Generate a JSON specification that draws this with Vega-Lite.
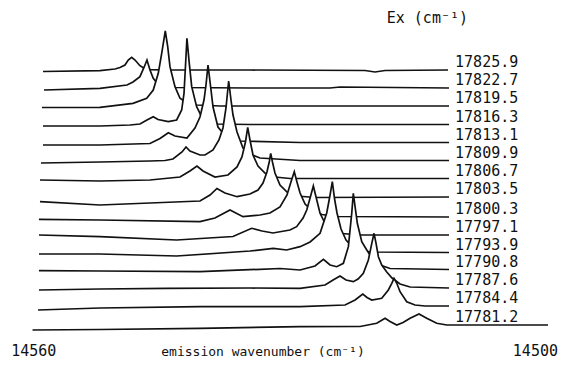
{
  "$schema": "https://vega.github.io/schema/vega-lite/v6.json",
  "width": 565,
  "height": 369,
  "autosize": "none",
  "padding": 0,
  "background": "white",
  "config": {"view": {"stroke": null}},
  "datasets": {
    "spectra": [
      {"ex":"17825.9","wn":14558.84,"y":297.5},{"ex":"17825.9","wn":14552.02,"y":298.3},{"ex":"17825.9","wn":14550.23,"y":300},{"ex":"17825.9","wn":14549.63,"y":301.5},{"ex":"17825.9","wn":14549.03,"y":304},{"ex":"17825.9","wn":14548.64,"y":309},{"ex":"17825.9","wn":14548.23,"y":311.7},{"ex":"17825.9","wn":14547.83,"y":309},{"ex":"17825.9","wn":14547.24,"y":303.3},{"ex":"17825.9","wn":14546.76,"y":300.7},{"ex":"17825.9","wn":14546.04,"y":299.3},{"ex":"17825.9","wn":14544.25,"y":299},{"ex":"17825.9","wn":14534.08,"y":299},{"ex":"17825.9","wn":14520.32,"y":298.5},{"ex":"17825.9","wn":14519.12,"y":297},{"ex":"17825.9","wn":14517.92,"y":298.5},{"ex":"17825.9","wn":14510.39,"y":299},

      {"ex":"17822.7","wn":14558.72,"y":279},{"ex":"17822.7","wn":14552.02,"y":280.7},{"ex":"17822.7","wn":14548.79,"y":284},{"ex":"17822.7","wn":14548.07,"y":287},{"ex":"17822.7","wn":14547.24,"y":292.3},{"ex":"17822.7","wn":14546.72,"y":302.3},{"ex":"17822.7","wn":14546.40,"y":309},{"ex":"17822.7","wn":14546.04,"y":299},{"ex":"17822.7","wn":14545.65,"y":290.7},{"ex":"17822.7","wn":14545.17,"y":285.7},{"ex":"17822.7","wn":14544.25,"y":282.5},{"ex":"17822.7","wn":14543.05,"y":281.5},{"ex":"17822.7","wn":14534.08,"y":281},{"ex":"17822.7","wn":14524.50,"y":281},{"ex":"17822.7","wn":14523.31,"y":282},{"ex":"17822.7","wn":14510.27,"y":281},

      {"ex":"17819.5","wn":14558.96,"y":261.5},{"ex":"17819.5","wn":14552.02,"y":261.7},{"ex":"17819.5","wn":14548.07,"y":265.7},{"ex":"17819.5","wn":14546.43,"y":270.7},{"ex":"17819.5","wn":14545.65,"y":279},{"ex":"17819.5","wn":14545.05,"y":295.7},{"ex":"17819.5","wn":14544.64,"y":315.7},{"ex":"17819.5","wn":14544.21,"y":338},{"ex":"17819.5","wn":14543.92,"y":322.3},{"ex":"17819.5","wn":14543.65,"y":302.3},{"ex":"17819.5","wn":14543.05,"y":282.3},{"ex":"17819.5","wn":14542.45,"y":270.7},{"ex":"17819.5","wn":14541.62,"y":266},{"ex":"17819.5","wn":14540.42,"y":264},{"ex":"17819.5","wn":14537.67,"y":263},{"ex":"17819.5","wn":14528.09,"y":263},{"ex":"17819.5","wn":14510.27,"y":263},

      {"ex":"17816.3","wn":14558.84,"y":243},{"ex":"17816.3","wn":14552.02,"y":243},{"ex":"17816.3","wn":14548.43,"y":244},{"ex":"17816.3","wn":14547.24,"y":245},{"ex":"17816.3","wn":14546.40,"y":249},{"ex":"17816.3","wn":14545.65,"y":252.3},{"ex":"17816.3","wn":14545.08,"y":249.5},{"ex":"17816.3","wn":14543.85,"y":247.3},{"ex":"17816.3","wn":14542.85,"y":249},{"ex":"17816.3","wn":14542.25,"y":259},{"ex":"17816.3","wn":14541.97,"y":275.7},{"ex":"17816.3","wn":14541.82,"y":299},{"ex":"17816.3","wn":14541.62,"y":330.7},{"ex":"17816.3","wn":14541.34,"y":305.7},{"ex":"17816.3","wn":14541.05,"y":282.3},{"ex":"17816.3","wn":14540.46,"y":262.3},{"ex":"17816.3","wn":14539.86,"y":252.3},{"ex":"17816.3","wn":14539.26,"y":247.3},{"ex":"17816.3","wn":14538.27,"y":245},{"ex":"17816.3","wn":14534.08,"y":244.5},{"ex":"17816.3","wn":14510.27,"y":244.5},

      {"ex":"17813.1","wn":14558.84,"y":224},{"ex":"17813.1","wn":14552.02,"y":224},{"ex":"17813.1","wn":14546.04,"y":225.5},{"ex":"17813.1","wn":14544.84,"y":230.5},{"ex":"17813.1","wn":14543.85,"y":236.3},{"ex":"17813.1","wn":14543.05,"y":233},{"ex":"17813.1","wn":14541.62,"y":231},{"ex":"17813.1","wn":14540.66,"y":241},{"ex":"17813.1","wn":14540.06,"y":252},{"ex":"17813.1","wn":14539.58,"y":269},{"ex":"17813.1","wn":14539.34,"y":284},{"ex":"17813.1","wn":14539.10,"y":304},{"ex":"17813.1","wn":14538.74,"y":279},{"ex":"17813.1","wn":14538.50,"y":262},{"ex":"17813.1","wn":14537.91,"y":242},{"ex":"17813.1","wn":14537.31,"y":236},{"ex":"17813.1","wn":14536.47,"y":231},{"ex":"17813.1","wn":14535.27,"y":228},{"ex":"17813.1","wn":14528.09,"y":226.5},{"ex":"17813.1","wn":14510.27,"y":226.5},

      {"ex":"17809.9","wn":14559.08,"y":206},{"ex":"17809.9","wn":14552.02,"y":207},{"ex":"17809.9","wn":14546.04,"y":208},{"ex":"17809.9","wn":14544.25,"y":208.5},{"ex":"17809.9","wn":14543.29,"y":210},{"ex":"17809.9","wn":14542.21,"y":217},{"ex":"17809.9","wn":14541.73,"y":222},{"ex":"17809.9","wn":14541.26,"y":218},{"ex":"17809.9","wn":14540.06,"y":214},{"ex":"17809.9","wn":14539.46,"y":214},{"ex":"17809.9","wn":14538.50,"y":219},{"ex":"17809.9","wn":14537.79,"y":229},{"ex":"17809.9","wn":14537.31,"y":241},{"ex":"17809.9","wn":14536.95,"y":261},{"ex":"17809.9","wn":14536.63,"y":288},{"ex":"17809.9","wn":14536.35,"y":269},{"ex":"17809.9","wn":14536.11,"y":254},{"ex":"17809.9","wn":14535.63,"y":237},{"ex":"17809.9","wn":14534.92,"y":221},{"ex":"17809.9","wn":14534.08,"y":215},{"ex":"17809.9","wn":14532.88,"y":211},{"ex":"17809.9","wn":14528.09,"y":208.5},{"ex":"17809.9","wn":14510.27,"y":208.5},

      {"ex":"17806.7","wn":14559.20,"y":189},{"ex":"17806.7","wn":14552.02,"y":188},{"ex":"17806.7","wn":14546.04,"y":189},{"ex":"17806.7","wn":14542.45,"y":192},{"ex":"17806.7","wn":14541.26,"y":198},{"ex":"17806.7","wn":14540.42,"y":203},{"ex":"17806.7","wn":14539.70,"y":198},{"ex":"17806.7","wn":14538.27,"y":192},{"ex":"17806.7","wn":14536.71,"y":194},{"ex":"17806.7","wn":14535.63,"y":202},{"ex":"17806.7","wn":14535.04,"y":212},{"ex":"17806.7","wn":14534.62,"y":227},{"ex":"17806.7","wn":14534.35,"y":241.7},{"ex":"17806.7","wn":14534.08,"y":229},{"ex":"17806.7","wn":14533.72,"y":214},{"ex":"17806.7","wn":14533.12,"y":203},{"ex":"17806.7","wn":14532.29,"y":196},{"ex":"17806.7","wn":14531.09,"y":192},{"ex":"17806.7","wn":14529.30,"y":190.5},{"ex":"17806.7","wn":14510.27,"y":190.5},

      {"ex":"17803.5","wn":14559.20,"y":167.3},{"ex":"17803.5","wn":14552.02,"y":164},{"ex":"17803.5","wn":14546.04,"y":166},{"ex":"17803.5","wn":14540.06,"y":168},{"ex":"17803.5","wn":14538.86,"y":174},{"ex":"17803.5","wn":14538.03,"y":180.5},{"ex":"17803.5","wn":14537.07,"y":176},{"ex":"17803.5","wn":14535.63,"y":172.3},{"ex":"17803.5","wn":14534.08,"y":175},{"ex":"17803.5","wn":14533.12,"y":179},{"ex":"17803.5","wn":14532.52,"y":186},{"ex":"17803.5","wn":14532.05,"y":197},{"ex":"17803.5","wn":14531.75,"y":208},{"ex":"17803.5","wn":14531.60,"y":215.7},{"ex":"17803.5","wn":14531.39,"y":207},{"ex":"17803.5","wn":14531.09,"y":196},{"ex":"17803.5","wn":14530.49,"y":184},{"ex":"17803.5","wn":14529.65,"y":177},{"ex":"17803.5","wn":14528.46,"y":173},{"ex":"17803.5","wn":14526.30,"y":171.5},{"ex":"17803.5","wn":14510.27,"y":172},

      {"ex":"17800.3","wn":14559.32,"y":149.7},{"ex":"17800.3","wn":14552.02,"y":149},{"ex":"17800.3","wn":14540.06,"y":147.3},{"ex":"17800.3","wn":14538.27,"y":151},{"ex":"17800.3","wn":14536.47,"y":159},{"ex":"17800.3","wn":14534.92,"y":152.3},{"ex":"17800.3","wn":14532.88,"y":154},{"ex":"17800.3","wn":14531.69,"y":156},{"ex":"17800.3","wn":14530.49,"y":162},{"ex":"17800.3","wn":14529.65,"y":174},{"ex":"17800.3","wn":14529.18,"y":187},{"ex":"17800.3","wn":14528.78,"y":197.3},{"ex":"17800.3","wn":14528.46,"y":187},{"ex":"17800.3","wn":14528.09,"y":176},{"ex":"17800.3","wn":14527.49,"y":165},{"ex":"17800.3","wn":14526.66,"y":158.5},{"ex":"17800.3","wn":14525.46,"y":154.5},{"ex":"17800.3","wn":14523.90,"y":152.5},{"ex":"17800.3","wn":14510.27,"y":152},

      {"ex":"17797.1","wn":14559.32,"y":134},{"ex":"17797.1","wn":14552.02,"y":132.3},{"ex":"17797.1","wn":14542.85,"y":129},{"ex":"17797.1","wn":14536.11,"y":132.5},{"ex":"17797.1","wn":14533.88,"y":140.7},{"ex":"17797.1","wn":14532.64,"y":138},{"ex":"17797.1","wn":14531.33,"y":136},{"ex":"17797.1","wn":14529.30,"y":139},{"ex":"17797.1","wn":14528.50,"y":142.3},{"ex":"17797.1","wn":14527.73,"y":151},{"ex":"17797.1","wn":14527.29,"y":159},{"ex":"17797.1","wn":14526.89,"y":171},{"ex":"17797.1","wn":14526.50,"y":183},{"ex":"17797.1","wn":14526.09,"y":169},{"ex":"17797.1","wn":14525.70,"y":155.7},{"ex":"17797.1","wn":14525.10,"y":145.7},{"ex":"17797.1","wn":14524.26,"y":139},{"ex":"17797.1","wn":14523.07,"y":135.5},{"ex":"17797.1","wn":14520.91,"y":134},{"ex":"17797.1","wn":14510.27,"y":134},

      {"ex":"17793.9","wn":14559.32,"y":115},{"ex":"17793.9","wn":14552.02,"y":115},{"ex":"17793.9","wn":14542.85,"y":113},{"ex":"17793.9","wn":14534.08,"y":118},{"ex":"17793.9","wn":14531.29,"y":120.7},{"ex":"17793.9","wn":14529.69,"y":119},{"ex":"17793.9","wn":14528.09,"y":122.3},{"ex":"17793.9","wn":14526.89,"y":127},{"ex":"17793.9","wn":14525.70,"y":135.7},{"ex":"17793.9","wn":14524.90,"y":156},{"ex":"17793.9","wn":14524.50,"y":174},{"ex":"17793.9","wn":14524.23,"y":187.3},{"ex":"17793.9","wn":14523.96,"y":170},{"ex":"17793.9","wn":14523.67,"y":156},{"ex":"17793.9","wn":14523.19,"y":140},{"ex":"17793.9","wn":14522.59,"y":129},{"ex":"17793.9","wn":14521.87,"y":122.5},{"ex":"17793.9","wn":14520.91,"y":119},{"ex":"17793.9","wn":14519.72,"y":117},{"ex":"17793.9","wn":14510.27,"y":116.5},

      {"ex":"17790.8","wn":14559.32,"y":98.3},{"ex":"17790.8","wn":14552.02,"y":98},{"ex":"17790.8","wn":14540.06,"y":97.3},{"ex":"17790.8","wn":14530.49,"y":100.5},{"ex":"17790.8","wn":14528.09,"y":99},{"ex":"17790.8","wn":14526.30,"y":103},{"ex":"17790.8","wn":14525.30,"y":109.7},{"ex":"17790.8","wn":14524.50,"y":104},{"ex":"17790.8","wn":14523.70,"y":102.3},{"ex":"17790.8","wn":14522.91,"y":105.7},{"ex":"17790.8","wn":14522.31,"y":122.3},{"ex":"17790.8","wn":14521.91,"y":155.7},{"ex":"17790.8","wn":14521.72,"y":175.7},{"ex":"17790.8","wn":14521.51,"y":162.3},{"ex":"17790.8","wn":14521.24,"y":145.7},{"ex":"17790.8","wn":14520.71,"y":127.3},{"ex":"17790.8","wn":14520.11,"y":119},{"ex":"17790.8","wn":14519.48,"y":111},{"ex":"17790.8","wn":14518.52,"y":104},{"ex":"17790.8","wn":14517.33,"y":100.5},{"ex":"17790.8","wn":14510.27,"y":99.5},

      {"ex":"17787.6","wn":14559.32,"y":79},{"ex":"17787.6","wn":14552.02,"y":80},{"ex":"17787.6","wn":14544.04,"y":80.7},{"ex":"17787.6","wn":14534.08,"y":81},{"ex":"17787.6","wn":14528.09,"y":80.7},{"ex":"17787.6","wn":14525.10,"y":84},{"ex":"17787.6","wn":14524.14,"y":89},{"ex":"17787.6","wn":14523.31,"y":93},{"ex":"17787.6","wn":14522.59,"y":89},{"ex":"17787.6","wn":14521.72,"y":87.3},{"ex":"17787.6","wn":14521.15,"y":90},{"ex":"17787.6","wn":14520.52,"y":95.7},{"ex":"17787.6","wn":14519.92,"y":109},{"ex":"17787.6","wn":14519.51,"y":125.7},{"ex":"17787.6","wn":14519.24,"y":135.7},{"ex":"17787.6","wn":14519.00,"y":125.7},{"ex":"17787.6","wn":14518.72,"y":112.3},{"ex":"17787.6","wn":14518.32,"y":104},{"ex":"17787.6","wn":14517.72,"y":97},{"ex":"17787.6","wn":14517.09,"y":91},{"ex":"17787.6","wn":14516.13,"y":85},{"ex":"17787.6","wn":14514.93,"y":82},{"ex":"17787.6","wn":14510.27,"y":81},

      {"ex":"17784.4","wn":14559.43,"y":59},{"ex":"17784.4","wn":14552.02,"y":61},{"ex":"17784.4","wn":14540.06,"y":62.3},{"ex":"17784.4","wn":14528.09,"y":62.3},{"ex":"17784.4","wn":14522.71,"y":64},{"ex":"17784.4","wn":14521.51,"y":69},{"ex":"17784.4","wn":14520.59,"y":75},{"ex":"17784.4","wn":14520.08,"y":71.5},{"ex":"17784.4","wn":14519.51,"y":69},{"ex":"17784.4","wn":14518.32,"y":70.7},{"ex":"17784.4","wn":14517.53,"y":79},{"ex":"17784.4","wn":14517.12,"y":85.7},{"ex":"17784.4","wn":14516.85,"y":90.7},{"ex":"17784.4","wn":14516.52,"y":85.7},{"ex":"17784.4","wn":14516.13,"y":77.3},{"ex":"17784.4","wn":14515.33,"y":67.3},{"ex":"17784.4","wn":14514.34,"y":64},{"ex":"17784.4","wn":14513.14,"y":63},{"ex":"17784.4","wn":14510.27,"y":63},

      {"ex":"17781.2","wn":14560.09,"y":39},{"ex":"17781.2","wn":14552.02,"y":39.5},{"ex":"17781.2","wn":14540.06,"y":40.7},{"ex":"17781.2","wn":14528.09,"y":42.3},{"ex":"17781.2","wn":14520.91,"y":42.5},{"ex":"17781.2","wn":14518.92,"y":45.7},{"ex":"17781.2","wn":14517.92,"y":50.7},{"ex":"17781.2","wn":14517.33,"y":47.5},{"ex":"17781.2","wn":14516.52,"y":44},{"ex":"17781.2","wn":14515.77,"y":46.5},{"ex":"17781.2","wn":14514.93,"y":50.7},{"ex":"17781.2","wn":14513.86,"y":55},{"ex":"17781.2","wn":14512.94,"y":50.7},{"ex":"17781.2","wn":14511.74,"y":45.7},{"ex":"17781.2","wn":14510.54,"y":44},{"ex":"17781.2","wn":14504.17,"y":44},{"ex":"17781.2","wn":14498.43,"y":44}
    ]
  },
  "data": {"name": "spectra"},
  "layer": [
    {
      "encoding": {
        "x": {
          "field": "wn",
          "type": "quantitative",
          "scale": {"domain": [14496.4, 14563.98], "reverse": true, "nice": false, "zero": false},
          "axis": {
            "values": [14560, 14500],
            "format": "d",
            "domain": false,
            "ticks": false,
            "tickSize": 0,
            "grid": false,
            "offset": -14,
            "labelPadding": 0,
            "labelBaseline": "alphabetic",
            "labelFlush": false,
            "labelOverlap": false,
            "labelFont": "DejaVu Sans Mono",
            "labelFontSize": 15,
            "labelColor": "#111111",
            "title": "emission wavenumber (cm⁻¹)",
            "titleFont": "DejaVu Sans Mono",
            "titleFontSize": 13,
            "titleFontWeight": "normal",
            "titleColor": "#111111",
            "titleX": 262.5,
            "titleY": 0,
            "titleBaseline": "alphabetic",
            "zindex": 1
          }
        },
        "y": {
          "field": "y",
          "type": "quantitative",
          "scale": {"domain": [0, 369], "nice": false, "zero": true},
          "axis": null
        }
      },
      "layer": [
        {"transform": [{"filter": {"field": "ex", "equal": "17825.9"}}], "layer": [
          {"mark": {"type": "area", "fill": "white"}},
          {"mark": {"type": "line", "stroke": "#111111", "strokeWidth": 1.7}}]},
        {"transform": [{"filter": {"field": "ex", "equal": "17822.7"}}], "layer": [
          {"mark": {"type": "area", "fill": "white"}},
          {"mark": {"type": "line", "stroke": "#111111", "strokeWidth": 1.7}}]},
        {"transform": [{"filter": {"field": "ex", "equal": "17819.5"}}], "layer": [
          {"mark": {"type": "area", "fill": "white"}},
          {"mark": {"type": "line", "stroke": "#111111", "strokeWidth": 1.7}}]},
        {"transform": [{"filter": {"field": "ex", "equal": "17816.3"}}], "layer": [
          {"mark": {"type": "area", "fill": "white"}},
          {"mark": {"type": "line", "stroke": "#111111", "strokeWidth": 1.7}}]},
        {"transform": [{"filter": {"field": "ex", "equal": "17813.1"}}], "layer": [
          {"mark": {"type": "area", "fill": "white"}},
          {"mark": {"type": "line", "stroke": "#111111", "strokeWidth": 1.7}}]},
        {"transform": [{"filter": {"field": "ex", "equal": "17809.9"}}], "layer": [
          {"mark": {"type": "area", "fill": "white"}},
          {"mark": {"type": "line", "stroke": "#111111", "strokeWidth": 1.7}}]},
        {"transform": [{"filter": {"field": "ex", "equal": "17806.7"}}], "layer": [
          {"mark": {"type": "area", "fill": "white"}},
          {"mark": {"type": "line", "stroke": "#111111", "strokeWidth": 1.7}}]},
        {"transform": [{"filter": {"field": "ex", "equal": "17803.5"}}], "layer": [
          {"mark": {"type": "area", "fill": "white"}},
          {"mark": {"type": "line", "stroke": "#111111", "strokeWidth": 1.7}}]},
        {"transform": [{"filter": {"field": "ex", "equal": "17800.3"}}], "layer": [
          {"mark": {"type": "area", "fill": "white"}},
          {"mark": {"type": "line", "stroke": "#111111", "strokeWidth": 1.7}}]},
        {"transform": [{"filter": {"field": "ex", "equal": "17797.1"}}], "layer": [
          {"mark": {"type": "area", "fill": "white"}},
          {"mark": {"type": "line", "stroke": "#111111", "strokeWidth": 1.7}}]},
        {"transform": [{"filter": {"field": "ex", "equal": "17793.9"}}], "layer": [
          {"mark": {"type": "area", "fill": "white"}},
          {"mark": {"type": "line", "stroke": "#111111", "strokeWidth": 1.7}}]},
        {"transform": [{"filter": {"field": "ex", "equal": "17790.8"}}], "layer": [
          {"mark": {"type": "area", "fill": "white"}},
          {"mark": {"type": "line", "stroke": "#111111", "strokeWidth": 1.7}}]},
        {"transform": [{"filter": {"field": "ex", "equal": "17787.6"}}], "layer": [
          {"mark": {"type": "area", "fill": "white"}},
          {"mark": {"type": "line", "stroke": "#111111", "strokeWidth": 1.7}}]},
        {"transform": [{"filter": {"field": "ex", "equal": "17784.4"}}], "layer": [
          {"mark": {"type": "area", "fill": "white"}},
          {"mark": {"type": "line", "stroke": "#111111", "strokeWidth": 1.7}}]},
        {"transform": [{"filter": {"field": "ex", "equal": "17781.2"}}], "layer": [
          {"mark": {"type": "area", "fill": "white"}},
          {"mark": {"type": "line", "stroke": "#111111", "strokeWidth": 1.7}}]}
      ]
    },
    {
      "transform": [{"aggregate": [{"op": "argmin", "field": "wn", "as": "last"}], "groupby": ["ex"]}],
      "mark": {"type": "text", "align": "left", "baseline": "alphabetic", "dy": -3, "font": "DejaVu Sans Mono", "fontSize": 15, "fill": "#111111"},
      "encoding": {
        "x": {"datum": 14509.55, "type": "quantitative"},
        "y": {"field": "last.y", "type": "quantitative", "axis": null},
        "text": {"field": "ex", "type": "nominal"}
      }
    },
    {
      "data": {"values": [{"t": "Ex  (cm⁻¹)"}]},
      "mark": {"type": "text", "align": "right", "baseline": "alphabetic", "font": "DejaVu Sans Mono", "fontSize": 15, "fill": "#111111"},
      "encoding": {
        "x": {"datum": 14508.0, "type": "quantitative"},
        "y": {"datum": 345.7, "type": "quantitative", "axis": null},
        "text": {"field": "t", "type": "nominal"}
      }
    }
  ]
}
